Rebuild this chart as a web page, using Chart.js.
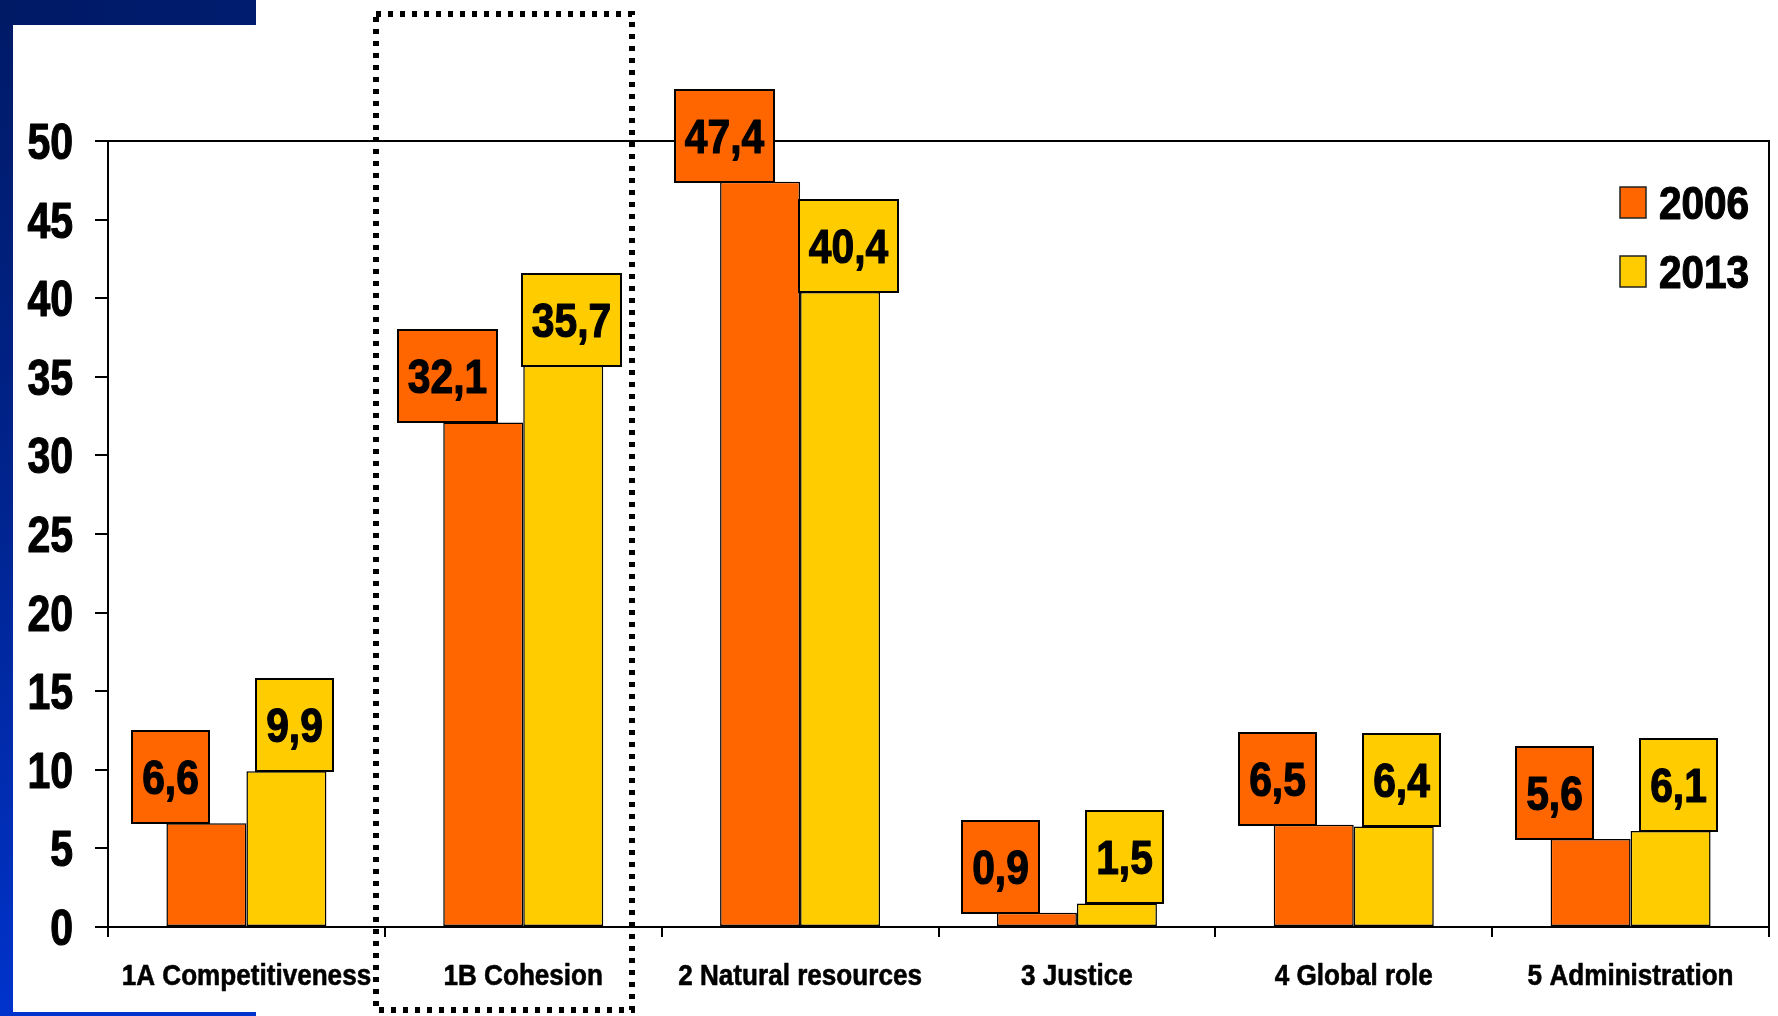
<!DOCTYPE html>
<html><head><meta charset="utf-8">
<script src="https://cdn.jsdelivr.net/npm/chart.js@4.4.1/dist/chart.umd.min.js"></script>
<style>html,body{margin:0;padding:0;background:#fff;overflow:hidden}#wrap{width:1778px;height:1016px;position:relative}</style>
</head><body><div id="wrap"><canvas id="c" width="1778" height="1016"></canvas></div>
<script>
const categories = ['1A Competitiveness', '1B Cohesion', '2 Natural resources', '3 Justice', '4 Global role', '5 Administration'];
const seriesNames = ['2006', '2013'];
const values2006 = [6.6, 32.1, 47.4, 0.9, 6.5, 5.6];
const values2013 = [9.9, 35.7, 40.4, 1.5, 6.4, 6.1];
const yTicks = [0, 5, 10, 15, 20, 25, 30, 35, 40, 45, 50];
const highlightedCategory = '1B Cohesion';

const seriesColors = ['#FF6600', '#FFCC00'];
const FONT = "'Liberation Sans',Arial,sans-serif";
const labelShift = [-36, 8];

function fmt(v) { return v.toFixed(1).replace('.', ','); }

function narrowText(ctx, txt, x, y, align, size, sx, thick) {
  ctx.save();
  ctx.font = 'bold ' + size + 'px ' + FONT;
  ctx.textAlign = align;
  ctx.textBaseline = 'alphabetic';
  ctx.fillStyle = '#000';
  ctx.strokeStyle = '#000';
  ctx.lineJoin = 'round';
  ctx.translate(x, y);
  ctx.scale(sx, 1);
  ctx.fillText(txt, 0, 0);
  if (thick) { ctx.lineWidth = thick; ctx.strokeText(txt, 0, 0); }
  ctx.restore();
}

const deco = {
  id: 'deco',
  beforeDraw(chart) {
    const ctx = chart.ctx;
    ctx.save();
    ctx.fillStyle = '#fff';
    ctx.fillRect(0, 0, chart.width, chart.height);
    const g = ctx.createLinearGradient(0, 0, 0, chart.height);
    g.addColorStop(0, '#001a66');
    g.addColorStop(0.5, '#00248f');
    g.addColorStop(1, '#0033cc');
    ctx.fillStyle = g;
    ctx.fillRect(0, 0, 13, chart.height);
    const g2 = ctx.createLinearGradient(0, 0, 256, 0);
    g2.addColorStop(0, '#001a66');
    g2.addColorStop(1, '#001c6e');
    ctx.fillStyle = g2;
    ctx.fillRect(0, 0, 256, 25);
    ctx.fillStyle = '#0033cc';
    ctx.fillRect(0, 1012, 256, 4);
    ctx.restore();
  },
  beforeDatasetsDraw(chart) {
    const { ctx, chartArea: a } = chart;
    ctx.save();
    ctx.strokeStyle = '#000';
    ctx.lineWidth = 2;
    ctx.beginPath();
    ctx.moveTo(a.left, a.top);
    ctx.lineTo(a.right, a.top);
    ctx.lineTo(a.right, a.bottom);
    ctx.stroke();
    ctx.restore();
  },
  afterDatasetsDraw(chart) {
    const ctx = chart.ctx;
    const xs = chart.scales.x, ys = chart.scales.y;
    ctx.save();
    // axis tick labels (condensed)
    ys.ticks.forEach(t => {
      narrowText(ctx, String(t.value), 73, ys.getPixelForValue(t.value) + 18, 'right', 50, 0.82, 1.2);
    });
    chart.data.labels.forEach((lab, i) => {
      narrowText(ctx, lab, xs.getPixelForValue(i), 985, 'center', 30, 0.87, 0.6);
    });
    // data label boxes
    const fs = 48;
    chart.data.datasets.forEach((ds, di) => {
      const meta = chart.getDatasetMeta(di);
      meta.data.forEach((bar, i) => {
        const txt = fmt(ds.data[i]);
        ctx.font = 'bold ' + fs + 'px ' + FONT;
        const tw = ctx.measureText(txt).width * 0.85;
        const w = Math.round(tw + 20), h = 92;
        const cx = bar.x + labelShift[di];
        const x0 = Math.round(cx - w / 2), y0 = Math.round(bar.y - h);
        ctx.fillStyle = ds.backgroundColor;
        ctx.fillRect(x0, y0, w, h);
        ctx.strokeStyle = '#000';
        ctx.lineWidth = 2;
        ctx.strokeRect(x0, y0, w, h);
        narrowText(ctx, txt, x0 + w / 2, y0 + h / 2 + fs * 0.36, 'center', fs, 0.85, 1.2);
      });
    });
    // legend
    chart.data.datasets.forEach((ds, di) => {
      const sy = 187 + di * 69;
      ctx.fillStyle = ds.backgroundColor;
      ctx.fillRect(1620, sy, 26, 31);
      ctx.strokeStyle = '#222';
      ctx.lineWidth = 1.5;
      ctx.strokeRect(1620, sy, 26, 31);
      narrowText(ctx, ds.label, 1659, sy + 15.5 + 46 * 0.36, 'left', 46, 0.88, 1.2);
    });
    // dotted highlight box
    const cxh = Math.round(xs.getPixelForValue(categories.indexOf(highlightedCategory)));
    ctx.strokeStyle = '#000';
    ctx.lineWidth = 6;
    ctx.setLineDash([5, 7]);
    ctx.strokeRect(cxh - 147, 14, 256, 996);
    ctx.restore();
  }
};

new Chart(document.getElementById('c'), {
  type: 'bar',
  data: {
    labels: categories,
    datasets: [
      { label: seriesNames[0], data: values2006, backgroundColor: seriesColors[0], borderColor: '#000', borderWidth: 1.5, borderSkipped: false },
      { label: seriesNames[1], data: values2013, backgroundColor: seriesColors[1], borderColor: '#000', borderWidth: 1.5, borderSkipped: false }
    ]
  },
  options: {
    responsive: false,
    animation: false,
    devicePixelRatio: 1,
    layout: { padding: { top: 141, right: 9, left: 0, bottom: 0 } },
    datasets: { bar: { categoryPercentage: 0.578, barPercentage: 1 } },
    plugins: { legend: { display: false }, tooltip: { enabled: false } },
    scales: {
      x: {
        grid: { drawOnChartArea: false, drawTicks: true, tickLength: 10, color: '#000', lineWidth: 2, offset: true },
        border: { display: true, color: '#000', width: 2 },
        ticks: { color: 'rgba(0,0,0,0)', font: { family: FONT, size: 30, weight: 'bold' }, padding: 20, maxRotation: 0, autoSkip: false },
        afterFit(s) { s.height = 89; }
      },
      y: {
        min: 0, max: 50,
        afterBuildTicks(s) { s.ticks = yTicks.map(v => ({ value: v })); },
        grid: { drawOnChartArea: false, drawTicks: true, tickLength: 13, color: '#000', lineWidth: 2 },
        border: { display: true, color: '#000', width: 2 },
        ticks: { color: 'rgba(0,0,0,0)', font: { family: FONT, size: 50, weight: 'bold' }, padding: 22 },
        afterFit(s) { s.width = 108; }
      }
    }
  },
  plugins: [deco]
});
</script></body></html>
